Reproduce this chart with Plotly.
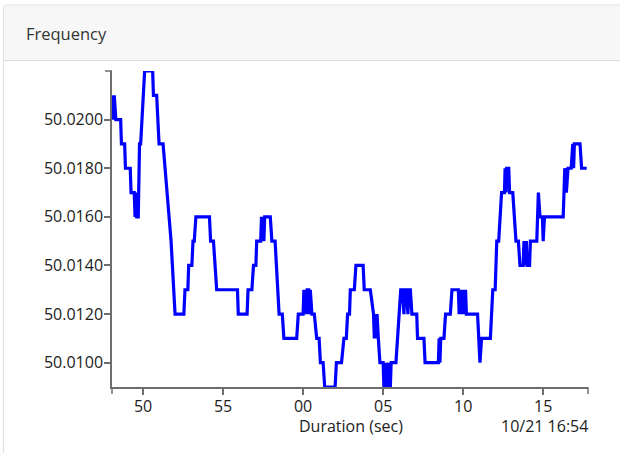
import plotly.graph_objects as go
import pandas as pd

# ---- data ----
base_time = "2019-10-21 16:53:00"
t_sec = [48.10, 48.15, 48.20, 48.25, 48.30, 48.60, 48.65, 48.85, 48.90, 49.20,
         49.25, 49.40, 49.45, 49.50, 49.55, 49.60, 49.70, 49.78, 49.85, 50.10,
         50.60, 50.65, 50.85, 51.00, 51.25, 51.75, 52.00, 52.55, 52.62, 52.80,
         52.85, 53.05, 53.12, 53.20, 53.30, 54.15, 54.22, 54.40, 54.60, 55.90,
         55.95, 56.50, 56.56, 56.80, 56.90, 57.05, 57.10, 57.35, 57.40, 57.45,
         57.50, 57.55, 57.60, 57.95, 58.05, 58.25, 58.50, 58.70, 58.80, 59.60,
         59.70, 60.00, 60.05, 60.10, 60.15, 60.20, 60.25, 60.35, 60.40, 60.45,
         60.55, 60.70, 60.85, 61.00, 61.08, 61.25, 61.35, 62.00, 62.08, 62.40,
         62.55, 62.70, 62.78, 62.90, 62.95, 63.20, 63.30, 63.75, 63.82, 64.20,
         64.40, 64.45, 64.50, 64.55, 64.62, 64.70, 64.80, 65.00, 65.05, 65.15,
         65.20, 65.30, 65.35, 65.45, 65.50, 65.80, 66.10, 66.20, 66.30, 66.35,
         66.45, 66.55, 66.60, 66.70, 66.80, 67.10, 67.15, 67.55, 67.62, 68.45,
         68.50, 68.55, 68.60, 68.80, 68.90, 69.20, 69.30, 69.70, 69.75, 69.80,
         69.90, 69.95, 70.05, 70.15, 70.20, 70.90, 70.95, 71.05, 71.15, 71.70,
         71.85, 72.00, 72.10, 72.22, 72.40, 72.58, 72.62, 72.68, 72.72, 72.85,
         72.90, 73.10, 73.30, 73.45, 73.55, 73.75, 73.80, 73.85, 73.95, 74.00,
         74.15, 74.20, 74.60, 74.70, 74.80, 74.95, 75.00, 75.08, 76.25, 76.30,
         76.35, 76.45, 76.55, 76.75, 76.80, 76.85, 76.90, 76.95, 77.30, 77.40,
         77.72]
freq = [50.021, 50.020, 50.021, 50.020, 50.020, 50.020, 50.019, 50.019, 50.018, 50.018,
        50.017, 50.017, 50.017, 50.016, 50.017, 50.016, 50.016, 50.019, 50.019, 50.022,
        50.022, 50.021, 50.021, 50.019, 50.019, 50.015, 50.012, 50.012, 50.013, 50.013,
        50.014, 50.014, 50.015, 50.015, 50.016, 50.016, 50.015, 50.015, 50.013, 50.013,
        50.012, 50.012, 50.013, 50.013, 50.014, 50.014, 50.015, 50.015, 50.016, 50.015,
        50.016, 50.015, 50.016, 50.016, 50.015, 50.015, 50.012, 50.012, 50.011, 50.011,
        50.012, 50.012, 50.013, 50.012, 50.013, 50.012, 50.013, 50.013, 50.012, 50.013,
        50.012, 50.012, 50.011, 50.011, 50.010, 50.010, 50.009, 50.009, 50.010, 50.010,
        50.011, 50.011, 50.012, 50.012, 50.013, 50.013, 50.014, 50.014, 50.013, 50.013,
        50.012, 50.011, 50.012, 50.011, 50.012, 50.011, 50.010, 50.010, 50.009, 50.010,
        50.009, 50.010, 50.009, 50.009, 50.010, 50.010, 50.013, 50.013, 50.012, 50.013,
        50.013, 50.012, 50.013, 50.013, 50.012, 50.012, 50.011, 50.011, 50.010, 50.010,
        50.011, 50.010, 50.011, 50.011, 50.012, 50.012, 50.013, 50.013, 50.012, 50.013,
        50.012, 50.013, 50.012, 50.013, 50.012, 50.012, 50.011, 50.010, 50.011, 50.011,
        50.013, 50.013, 50.015, 50.015, 50.017, 50.017, 50.018, 50.017, 50.018, 50.018,
        50.017, 50.017, 50.015, 50.015, 50.014, 50.014, 50.015, 50.014, 50.015, 50.014,
        50.014, 50.015, 50.015, 50.017, 50.016, 50.016, 50.015, 50.016, 50.016, 50.017,
        50.018, 50.017, 50.018, 50.018, 50.019, 50.019, 50.018, 50.019, 50.019, 50.018,
        50.018]
y_ticks = [50.010, 50.012, 50.014, 50.016, 50.018, 50.020]
x_range_sec = [48.06, 77.80]
y_range = [50.009, 50.022]
panel_title = "Frequency"
x_title = "Duration (sec)"
date_label = "10/21 16:54"

# ---- build ----
base = pd.Timestamp(base_time)
times = [base + pd.Timedelta(seconds=s) for s in t_sec]
xr = [base + pd.Timedelta(seconds=s) for s in x_range_sec]

W, H = 620, 453
L, R, T, B = 112, 588, 71, 387   # plot area in pixels
def px(x):
    return (x - L) / (R - L)
def py(y):
    return (B - y) / (B - T)

FONT = "Open Sans, Noto Sans, sans-serif"
AX = "#6e6e6e"
TXT = "#222222"
FS = 16

fig = go.Figure()
fig.add_trace(go.Scatter(x=times, y=freq, mode="lines",
                         line=dict(color="#0000ff", width=3.2),
                         hoverinfo="x+y", showlegend=False))

shapes = []
# panel border (left + top, rounded corner) and header
shapes.append(dict(type="path", xref="paper", yref="paper", layer="below",
                   path=f"M {px(4)},{py(60)} L {px(4)},{py(9)} Q {px(4)},{py(5.5)} {px(8)},{py(5.5)} L {px(630)},{py(5.5)} L {px(630)},{py(60)} Z",
                   fillcolor="#f7f7f7", line=dict(width=0)))
shapes.append(dict(type="path", xref="paper", yref="paper", layer="below",
                   path=f"M {px(3.5)},{py(460)} L {px(3.5)},{py(9)} Q {px(3.5)},{py(5)} {px(7.5)},{py(5)} L {px(630)},{py(5)}",
                   line=dict(color="#e2e2e2", width=1.2)))
shapes.append(dict(type="line", xref="paper", yref="paper", layer="below",
                   x0=px(3.5), x1=px(630), y0=py(60.5), y1=py(60.5),
                   line=dict(color="#dcdcdc", width=1.2)))
# D3-style outer ticks at axis ends
shapes.append(dict(type="line", xref="paper", yref="paper",
                   x0=px(L - 7), x1=0, y0=1, y1=1, line=dict(color=AX, width=1.5)))
shapes.append(dict(type="line", xref="paper", yref="paper",
                   x0=0, x1=0, y0=0, y1=py(B + 7), line=dict(color=AX, width=1.5)))
shapes.append(dict(type="line", xref="paper", yref="paper",
                   x0=1, x1=1, y0=0, y1=py(B + 7), line=dict(color=AX, width=1.5)))

fig.update_layout(
    width=W, height=H,
    margin=dict(l=L, r=W - R, t=T, b=H - B, pad=0),
    paper_bgcolor="white", plot_bgcolor="white",
    font=dict(family=FONT, size=FS, color=TXT),
    shapes=shapes,
    annotations=[
        dict(text=panel_title, xref="paper", yref="paper", x=px(24), y=py(33),
             xanchor="left", yanchor="middle", showarrow=False,
             font=dict(family=FONT, size=16.5, color="#333333")),
        dict(text=x_title, xref="paper", yref="paper", x=px(351), y=py(426),
             xanchor="center", yanchor="middle", showarrow=False,
             font=dict(family=FONT, size=FS, color=TXT)),
        dict(text=date_label, xref="paper", yref="paper", x=px(590), y=py(426),
             xanchor="right", yanchor="middle", showarrow=False,
             font=dict(family=FONT, size=FS, color=TXT)),
    ],
    xaxis=dict(type="date", range=xr, tickformat="%S", dtick=5000,
               tick0=base, showgrid=False, zeroline=False,
               showline=True, linecolor=AX, linewidth=1.5,
               ticks="outside", ticklen=6, tickcolor=AX, tickwidth=1.5,
               ticklabelstandoff=-2,
               fixedrange=True),
    yaxis=dict(range=y_range, tickvals=y_ticks, tickformat=".4f",
               showgrid=False, zeroline=False,
               showline=True, linecolor=AX, linewidth=1.5,
               ticks="outside", ticklen=6, tickcolor=AX, tickwidth=1.5,
               ticklabelstandoff=-2,
               fixedrange=True),
)

fig.write_html("out.html", config={"displayModeBar": False},
               post_script="document.body.style.margin='0';")
